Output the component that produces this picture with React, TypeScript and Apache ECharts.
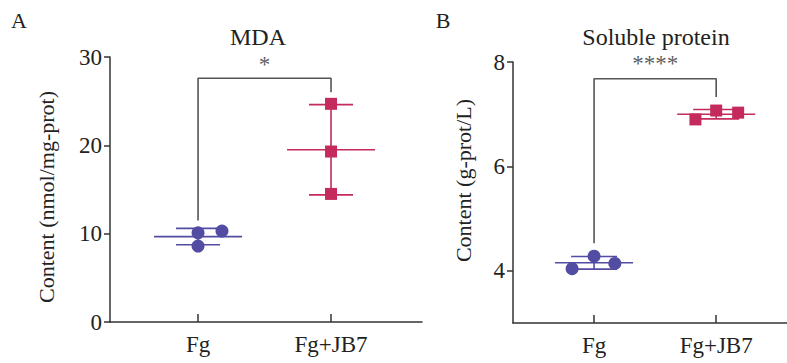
import React, { useEffect, useRef } from "react";
import * as echarts from "echarts";

const categories = ["Fg", "Fg+JB7"];
const mdaFg = [10.1, 10.3, 8.6];
const mdaJB7 = [24.7, 19.3, 14.5];
const proteinFg = [4.04, 4.28, 4.14];
const proteinJB7 = [6.9, 7.07, 7.03];
const mdaJitterFg = [0, 0.18, 0];
const mdaJitterJB7 = [0, 0, 0];
const proteinJitterFg = [-0.18, 0, 0.17];
const proteinJitterJB7 = [-0.17, 0, 0.18];
const mdaTicks = [0, 10, 20, 30];
const proteinTicks = [4, 6, 8];
// bracket: [left leg bottom, bar height, right leg bottom]
const mdaBracket = [11.5, 27.6, 26.0];
const proteinBracket = [4.53, 7.68, 7.33];
const mdaSig = "*";
const proteinSig = "****";

const BLUE = "#524da2";
const RED = "#c42a5c";
const AXIS = "#333";
const FONT = '"Liberation Serif", "Times New Roman", serif';

const mean = (a: number[]) => a.reduce((s, v) => s + v, 0) / a.length;
const sd = (a: number[]) => {
  const m = mean(a);
  return Math.sqrt(a.reduce((s, v) => s + (v - m) * (v - m), 0) / (a.length - 1));
};

function App() {
  const ref = useRef<HTMLDivElement>(null);
  useEffect(() => {
    if (!ref.current) return;
    const chart = echarts.init(ref.current, undefined, { renderer: "svg" });

    const makeErr = (idx: number, groups: number[][], colors: string[], halfMean: number, halfCap: number) => ({
      type: "custom",
      xAxisIndex: idx,
      yAxisIndex: idx,
      z: 2,
      silent: true,
      data: groups.map((g, i) => [i + 1, mean(g), sd(g), i]),
      renderItem: (_p: any, api: any) => {
        const x = api.value(0), m = api.value(1), s = api.value(2);
        const c = colors[api.value(3)];
        const pm = api.coord([x, m]);
        const pt = api.coord([x, m + s]);
        const pb = api.coord([x, m - s]);
        const st = { stroke: c, lineWidth: 1.6 };
        return {
          type: "group",
          children: [
            { type: "line", shape: { x1: pm[0] - halfMean, y1: pm[1], x2: pm[0] + halfMean, y2: pm[1] }, style: st },
            { type: "line", shape: { x1: pt[0], y1: pt[1], x2: pb[0], y2: pb[1] }, style: st },
            { type: "line", shape: { x1: pt[0] - halfCap, y1: pt[1], x2: pt[0] + halfCap, y2: pt[1] }, style: st },
            { type: "line", shape: { x1: pb[0] - halfCap, y1: pb[1], x2: pb[0] + halfCap, y2: pb[1] }, style: st },
          ],
        };
      },
    });

    const pts = (vals: number[], jit: number[], pos: number) => vals.map((v, i) => [pos + jit[i], v]);

    const scatter = (idx: number, data: number[][], color: string, symbol: string, size: number) => ({
      type: "scatter",
      xAxisIndex: idx,
      yAxisIndex: idx,
      z: 3,
      symbol,
      symbolSize: size,
      itemStyle: { color, opacity: 1 },
      data,
    });

    const bracket = (idx: number, b: number[]) => ({
      type: "line",
      xAxisIndex: idx,
      yAxisIndex: idx,
      z: 1,
      symbol: "none",
      lineStyle: { color: "#555", width: 1.6 },
      data: [
        [1, b[0]],
        [1, b[1]],
        [2, b[1]],
        [2, b[2]],
      ],
    });

    const sig = (idx: number, y: number, text: string) => ({
      type: "scatter",
      xAxisIndex: idx,
      yAxisIndex: idx,
      symbolSize: 0,
      data: [[1.5, y]],
      label: {
        show: true,
        position: "inside",
        formatter: text,
        fontFamily: FONT,
        fontSize: 23,
        color: "#333",
      },
    });

    const xAxis = (idx: number, min: number, max: number) => ({
      type: "value",
      gridIndex: idx,
      min,
      max,
      splitLine: { show: false },
      axisLine: { show: true, lineStyle: { color: AXIS, width: 1.5 } },
      axisTick: { show: true, inside: true, length: 8, customValues: [1, 2], lineStyle: { color: AXIS, width: 1.5 } },
      axisLabel: {
        customValues: [1, 2],
        formatter: (v: number) => categories[Math.round(v) - 1] ?? "",
        fontFamily: FONT,
        fontSize: 23,
        color: "#222",
        margin: 11,
      },
    });

    const yAxis = (idx: number, min: number, max: number, ticks: number[], name: string, gap: number, pad: number[]) => ({
      type: "value",
      gridIndex: idx,
      min,
      max,
      name,
      nameLocation: "middle",
      nameRotate: 90,
      nameGap: gap,
      nameTextStyle: { fontFamily: FONT, fontSize: 22, color: "#222", padding: pad },
      splitLine: { show: false },
      axisLine: { show: true, lineStyle: { color: AXIS, width: 1.5 } },
      axisTick: { show: true, length: 6, customValues: ticks, lineStyle: { color: AXIS, width: 1.5 } },
      axisLabel: { customValues: ticks, fontFamily: FONT, fontSize: 23, color: "#222", margin: 8 },
    });

    const text = (t: string, x: number, y: number, size: number) => ({
      type: "text",
      x,
      y,
      style: {
        text: t,
        fontFamily: FONT,
        fontSize: size,
        fill: "#222",
        align: "center",
        verticalAlign: "middle",
      },
    });

    chart.setOption({
      animation: false,
      backgroundColor: "#fff",
      grid: [
        { left: 110, top: 57, width: 312, height: 265 },
        { left: 513, top: 62, width: 274, height: 261 },
      ],
      xAxis: [xAxis(0, 0.338, 2.684), xAxis(1, 0.336, 2.58)],
      yAxis: [
        yAxis(0, 0, 30, mdaTicks, "Content (nmol/mg-prot)", 53, [0, 15, 0, 0]),
        yAxis(1, 3, 8, proteinTicks, "Content (g-prot/L)", 39, [0, 0, 0, 24]),
      ],
      graphic: [
        text("A", 19, 20, 22),
        text("B", 443, 20, 22),
        text("MDA", 258, 37, 24),
        text("Soluble protein", 656, 37, 24),
      ],
      series: [
        bracket(0, mdaBracket),
        makeErr(0, [mdaFg, mdaJB7], [BLUE, RED], 44, 22),
        scatter(0, pts(mdaFg, mdaJitterFg, 1), BLUE, "circle", 13),
        scatter(0, pts(mdaJB7, mdaJitterJB7, 2), RED, "rect", 12),
        sig(0, 29.2, mdaSig),
        bracket(1, proteinBracket),
        makeErr(1, [proteinFg, proteinJB7], [BLUE, RED], 39, 23),
        scatter(1, pts(proteinFg, proteinJitterFg, 1), BLUE, "circle", 13),
        scatter(1, pts(proteinJB7, proteinJitterJB7, 2), RED, "rect", 12),
        sig(1, 7.97, proteinSig),
      ],
    });
    return () => chart.dispose();
  }, []);
  return (
    <div
      ref={ref}
      style={{ position: "absolute", left: 0, top: 0, width: 787, height: 363 }}
    />
  );
}

export default App;
